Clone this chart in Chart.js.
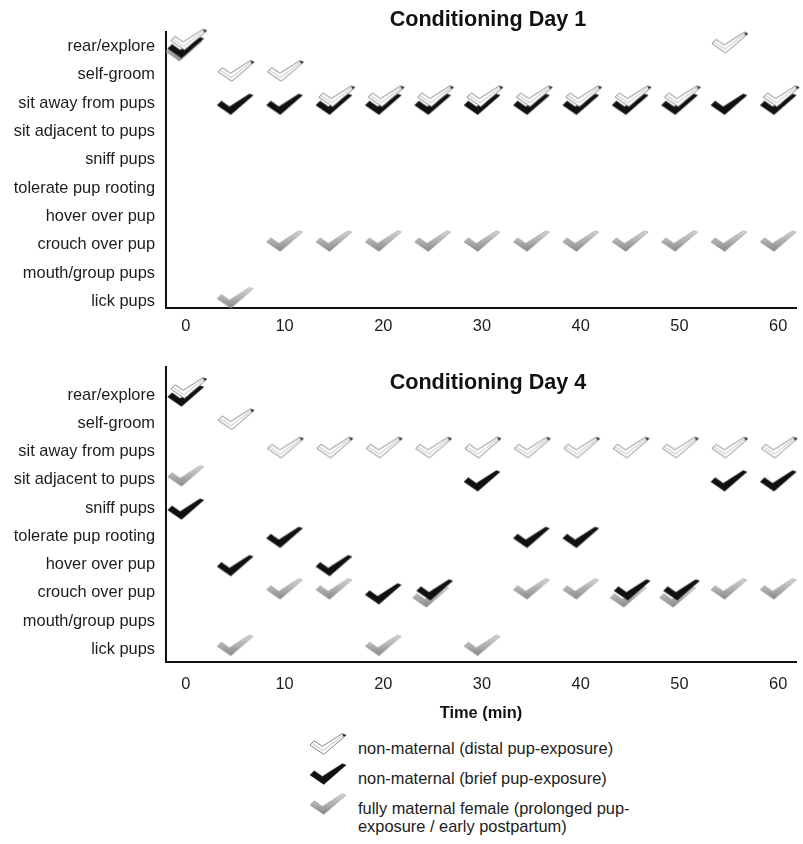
<!DOCTYPE html>
<html>
<head>
<meta charset="utf-8">
<title>Conditioning Day 1 / Day 4</title>
<script src="https://cdn.jsdelivr.net/npm/chart.js@4.4.1/dist/chart.umd.min.js"></script>
<style>
  html, body { margin: 0; padding: 0; background: #fff; }
  body { width: 803px; height: 844px; position: relative; overflow: hidden;
         font-family: "Liberation Sans", Arial, Helvetica, sans-serif; color: #1c1c1c; }
  #day1 { position: absolute; left: 0; top: 0; }
  #day4 { position: absolute; left: 0; top: 340px; }
  #legend { position: absolute; left: 304px; top: 732px; }
  .item { position: relative; height: 30px; }
  .item canvas { position: absolute; left: 0; top: 0; }
  .item span { position: absolute; left: 54px; top: 7px; font-size: 16.4px; line-height: 18px; white-space: nowrap; }
</style>
</head>
<body>
<canvas id="day1" width="803" height="340"></canvas>
<canvas id="day4" width="803" height="390"></canvas>
<div id="legend"></div>
<script>
// Behaviour categories, top to bottom
const behaviours = [
  'rear/explore', 'self-groom', 'sit away from pups', 'sit adjacent to pups',
  'sniff pups', 'tolerate pup rooting', 'hover over pup', 'crouch over pup',
  'mouth/group pups', 'lick pups'
];
const timeTicks = [0, 10, 20, 30, 40, 50, 60];
const groupKeys = ['distal', 'brief', 'maternal'];
const groupNames = [
  'non-maternal (distal pup-exposure)',
  'non-maternal (brief pup-exposure)',
  ['fully maternal female (prolonged pup-', 'exposure / early postpartum)']
];

// Observations as [minute, behaviour]
const day1Distal = [
  [0, 'rear/explore'], [55, 'rear/explore'],
  [5, 'self-groom'], [10, 'self-groom'],
  [15, 'sit away from pups'], [20, 'sit away from pups'], [25, 'sit away from pups'],
  [30, 'sit away from pups'], [35, 'sit away from pups'], [40, 'sit away from pups'],
  [45, 'sit away from pups'], [50, 'sit away from pups'], [60, 'sit away from pups']
];
const day1Brief = [
  [0, 'rear/explore'],
  [5, 'sit away from pups'], [10, 'sit away from pups'], [15, 'sit away from pups'],
  [20, 'sit away from pups'], [25, 'sit away from pups'], [30, 'sit away from pups'],
  [35, 'sit away from pups'], [40, 'sit away from pups'], [45, 'sit away from pups'],
  [50, 'sit away from pups'], [55, 'sit away from pups'], [60, 'sit away from pups']
];
const day1Maternal = [
  [0, 'rear/explore'],
  [10, 'crouch over pup'], [15, 'crouch over pup'], [20, 'crouch over pup'],
  [25, 'crouch over pup'], [30, 'crouch over pup'], [35, 'crouch over pup'],
  [40, 'crouch over pup'], [45, 'crouch over pup'], [50, 'crouch over pup'],
  [55, 'crouch over pup'], [60, 'crouch over pup'],
  [5, 'lick pups']
];

const day4Distal = [
  [0, 'rear/explore'],
  [5, 'self-groom'],
  [10, 'sit away from pups'], [15, 'sit away from pups'], [20, 'sit away from pups'],
  [25, 'sit away from pups'], [30, 'sit away from pups'], [35, 'sit away from pups'],
  [40, 'sit away from pups'], [45, 'sit away from pups'], [50, 'sit away from pups'],
  [55, 'sit away from pups'], [60, 'sit away from pups']
];
const day4Brief = [
  [0, 'rear/explore'],
  [30, 'sit adjacent to pups'], [55, 'sit adjacent to pups'], [60, 'sit adjacent to pups'],
  [0, 'sniff pups'],
  [10, 'tolerate pup rooting'], [35, 'tolerate pup rooting'], [40, 'tolerate pup rooting'],
  [5, 'hover over pup'], [15, 'hover over pup'],
  [20, 'crouch over pup'], [25, 'crouch over pup'], [45, 'crouch over pup'], [50, 'crouch over pup']
];
const day4Maternal = [
  [0, 'sit adjacent to pups'],
  [10, 'crouch over pup'], [15, 'crouch over pup'], [25, 'crouch over pup'],
  [35, 'crouch over pup'], [40, 'crouch over pup'], [45, 'crouch over pup'],
  [50, 'crouch over pup'], [55, 'crouch over pup'], [60, 'crouch over pup'],
  [5, 'lick pups'], [20, 'lick pups'], [30, 'lick pups']
];

const FONT = '"Liberation Sans", Arial, Helvetica, sans-serif';
const TEXT_SIZE = 16.4;
const toPoints = list => list.map(([t, b]) => ({ x: t, y: behaviours.indexOf(b) }));

// ---- check-mark glyphs used as point styles ----
function checkPath(g) {
  g.beginPath();
  g.moveTo(0, 12);
  g.lineTo(4.5, 7.5);
  g.lineTo(13, 13.5);
  g.lineTo(34, 0);
  g.lineTo(38, 1.5);
  g.lineTo(14.5, 22);
  g.closePath();
}
function drawCheck(kind, dx, dy) {
  const c = document.createElement('canvas');
  c.width = 50; c.height = 40;
  const g = c.getContext('2d');
  g.translate(25 - 18 + dx, 20 - 10.3 + dy);
  g.scale(0.95, 0.94);
  g.lineJoin = 'round';
  if (kind === 'brief') {
    checkPath(g);
    g.fillStyle = '#101010';
    g.fill();
    g.strokeStyle = 'rgba(30,30,30,0.6)';
    g.lineWidth = 0.8;
    g.stroke();
  } else if (kind === 'maternal') {
    const gr = g.createLinearGradient(0, 0, 0, 22);
    gr.addColorStop(0, '#d4d4d4');
    gr.addColorStop(0.5, '#b0b0b0');
    gr.addColorStop(1, '#888888');
    checkPath(g);
    g.fillStyle = gr;
    g.fill();
    g.strokeStyle = 'rgba(140,140,140,0.8)';
    g.lineWidth = 0.6;
    g.stroke();
  } else {
    checkPath(g);
    g.fillStyle = '#ffffff';
    g.fill();
    g.strokeStyle = '#7c7c7c';
    g.lineWidth = 1;
    g.stroke();
    // inner contour line
    g.beginPath();
    g.moveTo(2.5, 10.5);
    g.lineTo(13.8, 18);
    g.lineTo(35.5, 1.2);
    g.strokeStyle = '#a8a8a8';
    g.lineWidth = 0.8;
    g.stroke();
    // dark tip
    g.beginPath();
    g.moveTo(34, 0);
    g.lineTo(38, 1.5);
    g.lineTo(35.5, 3.5);
    g.closePath();
    g.fillStyle = '#2a2a2a';
    g.fill();
  }
  return c;
}
const glyphCache = {};
function glyph(kind, dx, dy) {
  const key = kind + ':' + dx + ':' + dy;
  if (!glyphCache[key]) glyphCache[key] = drawCheck(kind, dx, dy);
  return glyphCache[key];
}

// Nudge for a lone mark, and for marks that share a cell with another group
// (the shared ones are staggered so every group stays visible).
const loneNudge = { distal: [1, -4], brief: [0, 1], maternal: [0, -4] };
const sharedNudge = { distal: [3, -7], brief: [0, 1], maternal: [-2, 4] };

function pointStyleFor(kind) {
  return ctx => {
    const p = ctx.raw;
    if (!p) return glyph(kind, 0, 0);
    const present = groupKeys.filter((k, i) =>
      ctx.chart.data.datasets[i].data.some(q => q.x === p.x && q.y === p.y));
    let n;
    if (present.length < 2) n = loneNudge[kind];
    else if (kind === 'brief' && !present.includes('distal')) n = [2, -3];
    else n = sharedNudge[kind];
    return glyph(kind, n[0], n[1]);
  };
}

// Draws the panel heading inside the plot region
const panelTitle = {
  id: 'panelTitle',
  afterDraw(chart, args, opts) {
    const { ctx, chartArea } = chart;
    ctx.save();
    ctx.font = 'bold 21.6px ' + FONT;
    ctx.fillStyle = '#111';
    ctx.textAlign = 'center';
    ctx.textBaseline = 'middle';
    ctx.fillText(opts.text, (chartArea.left + chartArea.right) / 2 + opts.dx, chartArea.top + opts.dy);
    ctx.restore();
  }
};

function makeDataset(label, list, kind) {
  return {
    label,
    data: toPoints(list),
    pointStyle: pointStyleFor(kind),
    pointRadius: 6,
    pointHoverRadius: 6,
    showLine: false,
    clip: false
  };
}

function buildChart(canvasId, cfg) {
  return new Chart(document.getElementById(canvasId), {
    type: 'scatter',
    data: {
      datasets: [
        makeDataset(groupNames[0], cfg.distal, 'distal'),
        makeDataset(groupNames[1], cfg.brief, 'brief'),
        makeDataset(groupNames[2].join(' '), cfg.maternal, 'maternal')
      ]
    },
    options: {
      responsive: false,
      animation: false,
      devicePixelRatio: 1,
      events: [],
      layout: { padding: { left: 6, right: cfg.right, top: cfg.top, bottom: 0 } },
      plugins: {
        legend: { display: false },
        tooltip: { enabled: false },
        panelTitle: { text: cfg.title, dx: 7, dy: cfg.titleDy }
      },
      scales: {
        x: {
          type: 'linear',
          position: 'bottom',
          min: -2,
          max: 61.8,
          afterBuildTicks: s => { s.ticks = timeTicks.map(v => ({ value: v })); },
          afterFit: s => { s.height = cfg.xHeight; },
          grid: { display: false, drawTicks: false },
          border: { display: true, color: '#111', width: 2 },
          ticks: { color: '#1c1c1c', font: { family: FONT, size: TEXT_SIZE }, padding: cfg.xPad, maxRotation: 0 },
          title: cfg.xTitle
            ? { display: true, text: 'Time (min)', color: '#111',
                font: { family: FONT, size: TEXT_SIZE, weight: 'bold' }, padding: { top: 0, bottom: 7 } }
            : { display: false }
        },
        y: {
          type: 'linear',
          reverse: true,
          min: cfg.yMin,
          max: cfg.yMax,
          afterBuildTicks: s => { s.ticks = behaviours.map((_, i) => ({ value: i })); },
          afterFit: s => { s.width = 160; },
          grid: { display: false, drawTicks: false },
          border: { display: true, color: '#111', width: 2 },
          ticks: {
            color: '#1c1c1c',
            font: { family: FONT, size: TEXT_SIZE },
            padding: 11,
            callback: v => behaviours[v]
          }
        }
      }
    },
    plugins: [panelTitle]
  });
}

buildChart('day1', {
  title: 'Conditioning Day 1', titleDy: -12,
  distal: day1Distal, brief: day1Brief, maternal: day1Maternal,
  top: 32, right: 2, xHeight: 32, xPad: 9, xTitle: false,
  yMin: -0.512, yMax: 9.223
});
buildChart('day4', {
  title: 'Conditioning Day 4', titleDy: 16,
  distal: day4Distal, brief: day4Brief, maternal: day4Maternal,
  top: 27, right: 5, xHeight: 68, xPad: 13, xTitle: true,
  yMin: -0.991, yMax: 9.451
});

// Legend
const legend = document.getElementById('legend');
groupKeys.forEach((k, i) => {
  const item = document.createElement('div');
  item.className = 'item';
  const icon = document.createElement('canvas');
  icon.width = 50; icon.height = 30;
  icon.getContext('2d').drawImage(glyph(k, 0, 0), -1, -8);
  const span = document.createElement('span');
  const name = groupNames[i];
  if (Array.isArray(name)) {
    name.forEach((line, j) => {
      if (j) span.appendChild(document.createElement('br'));
      span.appendChild(document.createTextNode(line));
    });
  } else {
    span.textContent = name;
  }
  item.appendChild(icon);
  item.appendChild(span);
  legend.appendChild(item);
});
</script>
</body>
</html>
